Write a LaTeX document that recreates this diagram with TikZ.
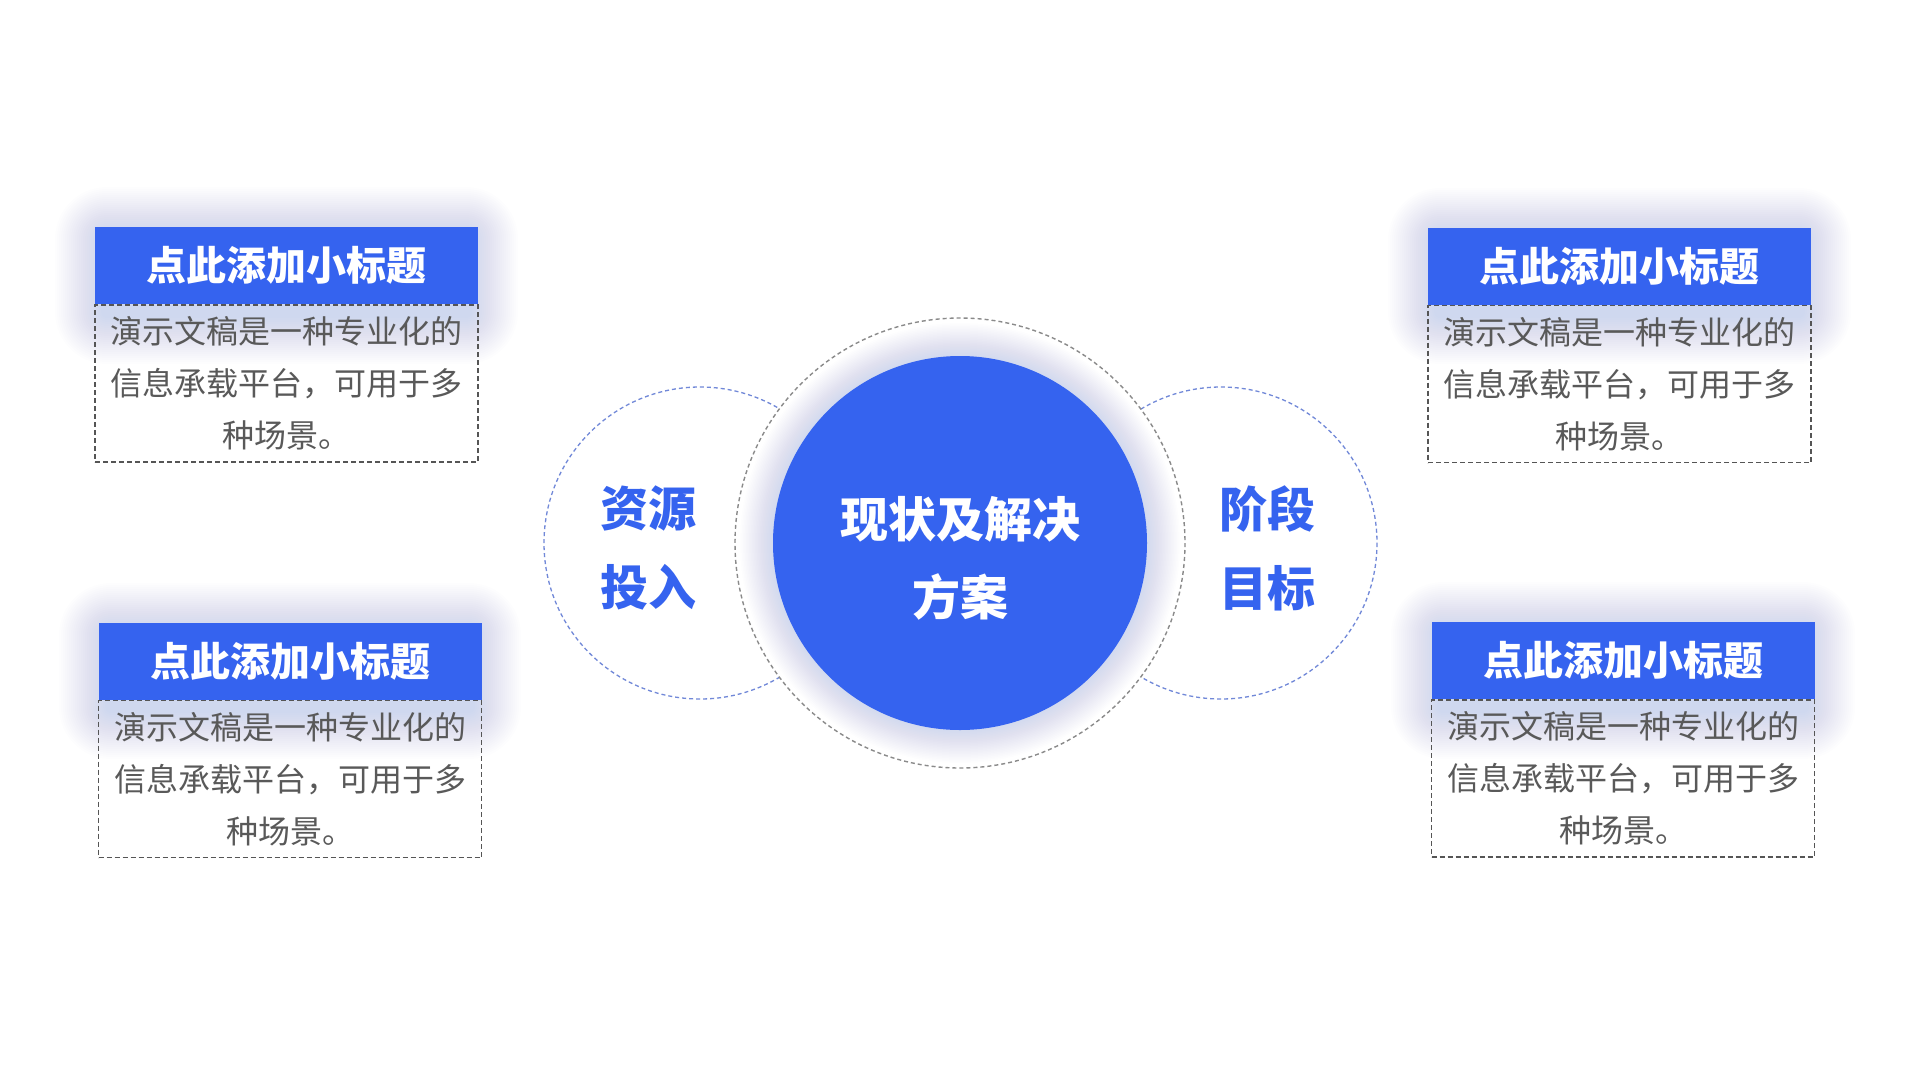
\documentclass[tikz,border=0pt]{standalone}
\usepackage{fontspec}
\setmainfont{Noto Sans CJK SC}
\definecolor{mainblue}{HTML}{3563EF}
\definecolor{bodygray}{HTML}{595959}
\definecolor{boxline}{HTML}{555555}
\definecolor{ringgray}{HTML}{8A8A8A}
\definecolor{ringblue}{HTML}{7188D8}
\tikzset{
  headbox/.style={fill=mainblue, draw=none, inner sep=0pt, minimum width=383pt, minimum height=77pt, text=white, font=\fontsize{40}{48}\selectfont\bfseries},
  bodybox/.style={draw=boxline, line width=1.6pt, dash pattern=on 5pt off 3pt, inner sep=0pt, minimum width=383pt, minimum height=157pt, text=bodygray, align=center, font=\fontsize{32}{52}\selectfont},
  sidering/.style={draw=ringblue, line width=1.3pt, dash pattern=on 4pt off 3pt},
  outerring/.style={draw=ringgray, fill=white, line width=1.4pt, dash pattern=on 4pt off 3pt},
  sidelabel/.style={text=mainblue, align=center, font=\fontsize{48}{79}\selectfont\bfseries},
  centerlabel/.style={text=white, align=center, font=\fontsize{48}{78}\selectfont\bfseries}
}
\newcommand\myglow[4]{%
  \foreach \i in {1,...,24}{%
    \fill[mainblue, opacity=0.006, rounded corners={4pt+\i*2pt}] ({#1+8-\i*2},{#2+8-\i*2}) rectangle ({#3-8+\i*2},{#4+12+\i*2});
  }%
}
\newcommand\mycard[5]{%
  % #1 name, #2 left x, #3 top y, #4 right x, #5 bottom y of header
  \myglow{#2}{#3}{#4}{#5}
  \node[headbox] (#1h) at ({(#2+#4)/2},{(#3+#5)/2}) {点此添加小标题};
  \node[bodybox, anchor=north] (#1b) at (#1h.south) {演示文稿是一种专业化的\\信息承载平台，可用于多\\种场景。};
}
\begin{document}
\begin{tikzpicture}[x=1pt,y=-1pt]
\useasboundingbox (0,0) rectangle (1920,1080);
\fill[white] (0,0) rectangle (1920,1080);

% side rings
\draw[sidering] (700,543) circle (156);
\draw[sidering] (1221,543) circle (156);
% outer ring
\draw[outerring] (960,543) circle (225);
% glow of centre circle
\foreach \i in {1,...,22}{
  \fill[mainblue, opacity=0.009] (960,543) circle ({187+\i*1.5});
}
\node[circle, fill=mainblue, minimum size=374pt, inner sep=0pt] (core) at (960,543) {};
\node[centerlabel] (coretext) at (960,558) {现状及解决\\方案};
\node[sidelabel] (lefttext) at (648,548) {资源\\投入};
\node[sidelabel] (righttext) at (1267,548) {阶段\\目标};

% cards
\mycard{tl}{95}{227}{478}{304}
\mycard{bl}{99}{623}{481}{699}
\mycard{tr}{1428}{228}{1811}{304}
\mycard{br}{1431}{622}{1815}{699}
\end{tikzpicture}
\end{document}
